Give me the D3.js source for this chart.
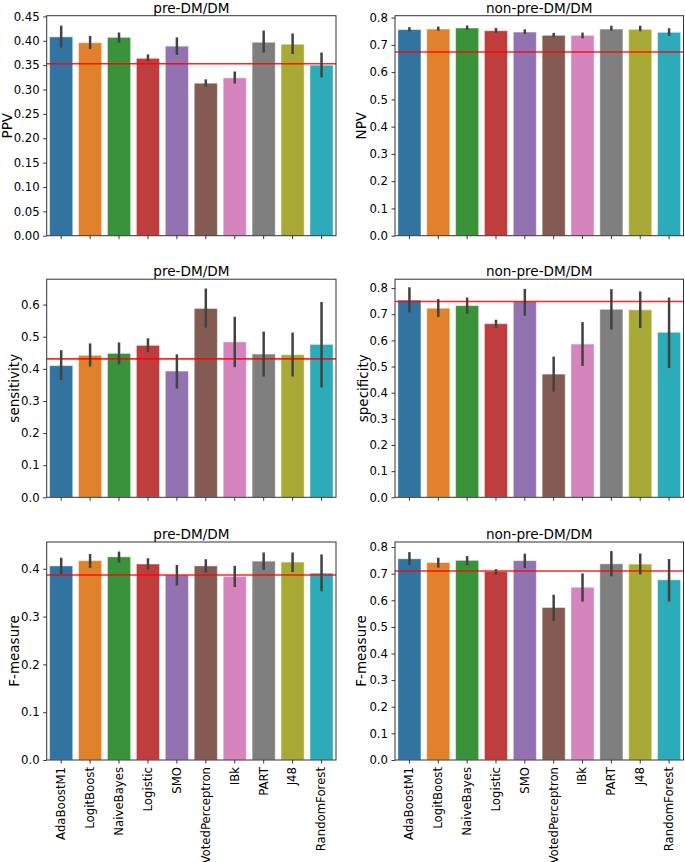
<!DOCTYPE html>
<html>
<head>
<meta charset="utf-8">
<script src="https://cdn.jsdelivr.net/npm/d3@7"></script>
<style>
  html, body { margin: 0; padding: 0; background: #fff; }
  svg { display: block; font-family: "DejaVu Sans", sans-serif; }
</style>
</head>
<body>
<svg id="chart" width="685" height="862"></svg>
<script>
// ---------- DATA ----------
const categories = ["AdaBoostM1","LogitBoost","NaiveBayes","Logistic","SMO","VotedPerceptron","IBk","PART","J48","RandomForest"];

const ppvMean = [0.408,0.396,0.407,0.364,0.389,0.313,0.324,0.397,0.393,0.350];
const ppvLow  = [0.386,0.383,0.396,0.358,0.371,0.306,0.312,0.376,0.373,0.325];
const ppvHigh = [0.431,0.410,0.417,0.372,0.407,0.321,0.337,0.421,0.415,0.376];
const ppvRef = 0.353;

const npvMean = [0.756,0.758,0.762,0.752,0.747,0.735,0.735,0.758,0.757,0.746];
const npvLow  = [0.749,0.752,0.755,0.744,0.740,0.728,0.724,0.752,0.750,0.733];
const npvHigh = [0.765,0.767,0.771,0.762,0.757,0.744,0.745,0.770,0.770,0.761];
const npvRef = 0.674;

const sensMean = [0.410,0.442,0.448,0.473,0.393,0.588,0.484,0.446,0.444,0.476];
const sensLow  = [0.365,0.407,0.414,0.452,0.339,0.528,0.405,0.376,0.376,0.342];
const sensHigh = [0.458,0.479,0.482,0.495,0.445,0.650,0.562,0.516,0.513,0.608];
const sensRef = 0.431;

const specMean = [0.754,0.723,0.733,0.664,0.749,0.471,0.586,0.719,0.717,0.631];
const specLow  = [0.707,0.690,0.702,0.647,0.694,0.404,0.502,0.641,0.647,0.494];
const specHigh = [0.803,0.758,0.764,0.679,0.797,0.538,0.670,0.796,0.787,0.764];
const specRef = 0.749;

const fPreMean = [0.406,0.417,0.425,0.410,0.387,0.406,0.384,0.416,0.414,0.391];
const fPreLow  = [0.389,0.402,0.413,0.399,0.365,0.392,0.362,0.398,0.393,0.353];
const fPreHigh = [0.423,0.431,0.436,0.422,0.408,0.420,0.406,0.434,0.434,0.430];
const fPreRef = 0.387;

const fNonMean = [0.756,0.742,0.750,0.708,0.749,0.573,0.649,0.737,0.736,0.677];
const fNonLow  = [0.732,0.723,0.732,0.697,0.721,0.523,0.595,0.690,0.697,0.595];
const fNonHigh = [0.781,0.760,0.766,0.717,0.775,0.621,0.701,0.785,0.776,0.755];
const fNonRef = 0.710;

const ticksPPV  = [0,0.05,0.10,0.15,0.20,0.25,0.30,0.35,0.40,0.45];
const ticksNPV  = [0,0.1,0.2,0.3,0.4,0.5,0.6,0.7,0.8];
const ticksSens = [0,0.1,0.2,0.3,0.4,0.5,0.6];
const ticksSpec = [0,0.1,0.2,0.3,0.4,0.5,0.6,0.7,0.8];
const ticksFPre = [0,0.1,0.2,0.3,0.4];
const ticksFNon = [0,0.1,0.2,0.3,0.4,0.5,0.6,0.7,0.8];

const titles = ["pre-DM/DM","non-pre-DM/DM"];
const colors = ["#3274a1","#e1812c","#3a923a","#c03d3e","#9372b2","#845b53","#d684bd","#7f7f7f","#a9aa35","#2eabb8"];

// ---------- LAYOUT ----------
const colX = [[46.7, 336], [395, 683.5]];
const rowY = [[15.7, 235.7], [279.2, 497.3], [542, 760]];

const panels = [
  {row:0,col:0,label:"PPV",mean:ppvMean,low:ppvLow,high:ppvHigh,ref:ppvRef,ticks:ticksPPV,fmt:".2f",top:0.4515,labelX:7},
  {row:0,col:1,label:"NPV",mean:npvMean,low:npvLow,high:npvHigh,ref:npvRef,ticks:ticksNPV,fmt:".1f",top:0.807,labelX:361},
  {row:1,col:0,label:"sensitivity",mean:sensMean,low:sensLow,high:sensHigh,ref:sensRef,ticks:ticksSens,fmt:".1f",top:0.679,labelX:14},
  {row:1,col:1,label:"specificity",mean:specMean,low:specLow,high:specHigh,ref:specRef,ticks:ticksSpec,fmt:".1f",top:0.834,labelX:363},
  {row:2,col:0,label:"F-measure",mean:fPreMean,low:fPreLow,high:fPreHigh,ref:fPreRef,ticks:ticksFPre,fmt:".1f",top:0.456,labelX:14},
  {row:2,col:1,label:"F-measure",mean:fNonMean,low:fNonLow,high:fNonHigh,ref:fNonRef,ticks:ticksFNon,fmt:".1f",top:0.819,labelX:361}
];

const svg = d3.select("#chart");
const tickFont = 11.7;

panels.forEach(p => {
  const [x0, x1] = colX[p.col];
  const [y0, y1] = rowY[p.row];
  const g = svg.append("g");

  const x = d3.scaleBand().domain(categories).range([x0, x1]).paddingInner(0.2).paddingOuter(0.1);
  const y = d3.scaleLinear().domain([0, p.top]).range([y1, y0]);

  // bars
  g.selectAll("rect.bar").data(categories).join("rect")
    .attr("class","bar")
    .attr("x", d => x(d))
    .attr("width", x.bandwidth())
    .attr("y", (d,i) => y(p.mean[i]))
    .attr("height", (d,i) => y(0) - y(p.mean[i]))
    .attr("fill", (d,i) => colors[i])
    .attr("stroke", "rgba(255,255,255,0.45)")
    .attr("stroke-width", 1);

  // reference line
  g.append("line")
    .attr("x1", x0).attr("x2", x1)
    .attr("y1", y(p.ref)).attr("y2", y(p.ref))
    .attr("stroke", "#ff0000").attr("stroke-opacity", 0.85)
    .attr("stroke-width", 1.6);

  // error bars
  g.selectAll("line.err").data(categories).join("line")
    .attr("class","err")
    .attr("x1", d => x(d) + x.bandwidth()/2)
    .attr("x2", d => x(d) + x.bandwidth()/2)
    .attr("y1", (d,i) => y(p.low[i]))
    .attr("y2", (d,i) => y(p.high[i]))
    .attr("stroke", "#424242")
    .attr("stroke-width", 2.5);

  // y axis
  const yAxis = d3.axisLeft(y).tickValues(p.ticks).tickFormat(d3.format(p.fmt)).tickSizeOuter(0).tickSize(3.5).tickPadding(3.5);
  const ya = g.append("g").attr("transform", `translate(${x0},0)`).call(yAxis);
  ya.select(".domain").remove();
  ya.selectAll("text").attr("font-size", tickFont).attr("fill", "#000").attr("font-family", "DejaVu Sans");
  ya.selectAll("line").attr("stroke", "#000").attr("stroke-width", 0.8);

  // x axis
  const xAxis = d3.axisBottom(x).tickSizeOuter(0).tickSize(3.5).tickPadding(3.5);
  const xa = g.append("g").attr("transform", `translate(0,${y1})`).call(xAxis);
  xa.select(".domain").remove();
  xa.selectAll("line").attr("stroke", "#000").attr("stroke-width", 0.8);
  if (p.row === 2) {
    xa.selectAll("text")
      .attr("font-size", tickFont).attr("fill", "#000").attr("font-family", "DejaVu Sans")
      .attr("transform", "rotate(-90)")
      .attr("text-anchor", "end")
      .attr("dy", "0.33em")
      .attr("x", -7).attr("y", 0);
  } else {
    xa.selectAll("text").remove();
  }

  // frame
  g.append("rect")
    .attr("x", x0).attr("y", y0)
    .attr("width", x1 - x0).attr("height", y1 - y0)
    .attr("fill", "none").attr("stroke", "#333").attr("stroke-width", 1);

  // title
  g.append("text")
    .attr("x", (x0 + x1)/2).attr("y", y0 - 3.2)
    .attr("text-anchor", "middle")
    .attr("font-size", 13.6).attr("fill", "#000")
    .text(titles[p.col]);

  // y label
  g.append("text")
    .attr("transform", `translate(${p.labelX + 4.5},${(y0 + y1)/2}) rotate(-90)`)
    .attr("text-anchor", "middle")
    .attr("font-size", 13.5).attr("fill", "#000")
    .text(p.label);
});
</script>
</body>
</html>
